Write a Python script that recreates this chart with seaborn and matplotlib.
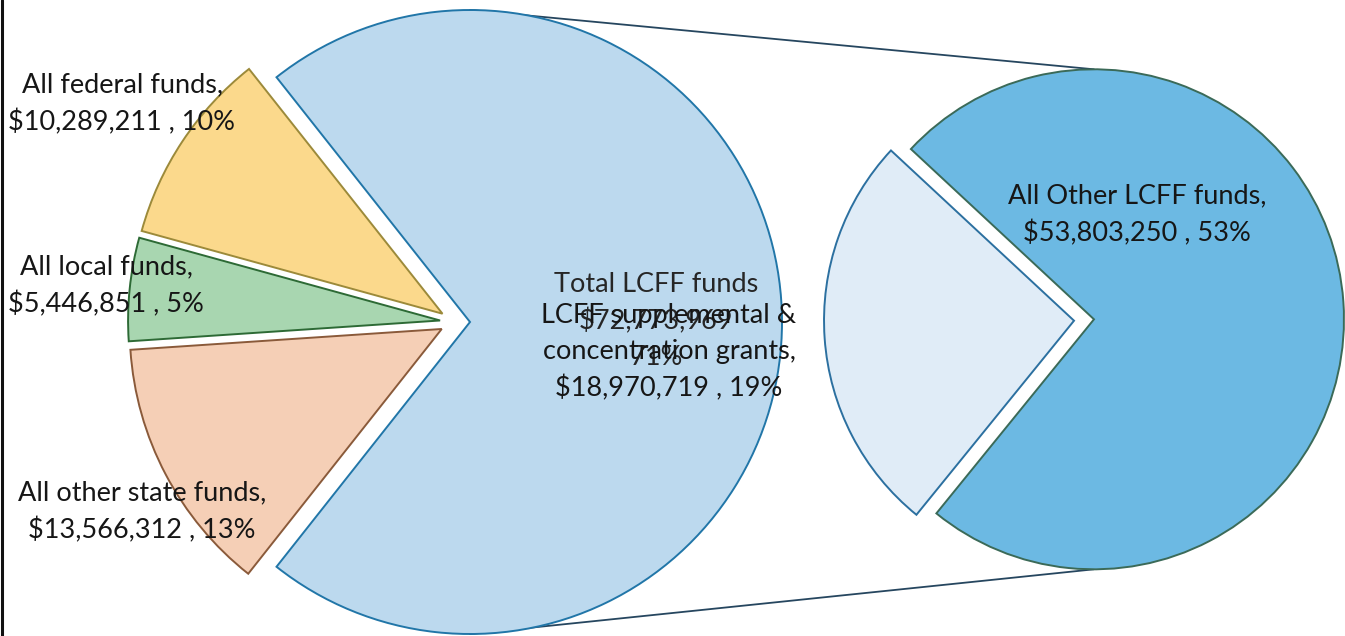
import matplotlib
matplotlib.use("Agg")
import matplotlib.pyplot as plt
from matplotlib.lines import Line2D
import numpy as np
import seaborn as sns

# ---------------- data ----------------
left_labels = ["All federal funds", "All local funds", "All other state funds", "Total LCFF funds"]
left_values = [10289211, 5446851, 13566312, 72773969]

right_labels = ["LCFF supplemental &\nconcentration grants", "All Other LCFF funds"]
right_values = [18970719, 53803250]

left_fill = ["#FBD98C", "#A8D6B0", "#F5CFB6", "#BCD9EE"]
left_edge = ["#9C8A3A", "#2D6A35", "#8A5A3A", "#2176A8"]
right_fill = ["#E0ECF7", "#6CB9E3"]
right_edge = ["#2C70A0", "#3B6A58"]

# ---------------- figure ----------------
sns.set_theme(style="white")
plt.rcParams["font.family"] = ["Lato", "DejaVu Sans"]

W, H = 1345, 636
fig = plt.figure(figsize=(W / 100, H / 100), dpi=100)
ax = fig.add_axes([0, 0, 1, 1])


def Y(py):
    return H - py


total = sum(left_values)
small_frac = sum(left_values[:3]) / total

# left pie
lc = (455, Y(322))
lr = 312
lexp = 15
lstart = 180 - small_frac * 180
lw_, _ = ax.pie(left_values, colors=left_fill, startangle=lstart, counterclock=True,
                center=lc, radius=lr, explode=[lexp] * 4, frame=True,
                wedgeprops=dict(linewidth=1.4))
for w, ec in zip(lw_, left_edge):
    w.set_edgecolor(ec)

# right pie
rc = (1084, Y(320))
rr = 250
rexp = 10
supp_frac = right_values[0] / sum(right_values)
rstart = 184 - supp_frac * 180
rw_, _ = ax.pie(right_values, colors=right_fill, startangle=rstart, counterclock=True,
                center=rc, radius=rr, explode=[rexp] * 2, frame=True,
                wedgeprops=dict(linewidth=1.4))
for w, ec in zip(rw_, right_edge):
    w.set_edgecolor(ec)

# series lines between the pies
lbig = lw_[3].center
rbig = rw_[1].center
for s in (1, -1):
    ax.add_line(Line2D([lbig[0], rbig[0]], [lbig[1] + s * lr, rbig[1] + s * rr],
                       color="#26465F", lw=1.3, zorder=0.5))

ax.set_xlim(0, W)
ax.set_ylim(0, H)
ax.set_aspect("auto")
ax.axis("off")


def fmt(label, v):
    return f"{label},\n${v:,.0f} , {round(100 * v / total):.0f}%"


tc = "#161616"
fs = 19.5
ls = 1.55
# left small slices labels
pos_left = [(122, 104), (106, 286), (142, 512)]
for lab, v, (px, py) in zip(left_labels[:3], left_values[:3], pos_left):
    ax.text(px, Y(py), fmt(lab, v), ha="center", va="center", fontsize=fs,
            color=tc, linespacing=ls, zorder=5)

# total LCFF label (drawn under the supplemental label)
ax.text(656, Y(321), f"{left_labels[3]}\n${left_values[3]:,.0f}\n{round(100 * left_values[3] / total):.0f}%",
        ha="center", va="center", fontsize=fs, color="#262626", linespacing=ls, zorder=5)

# right labels
ax.text(669, Y(352), fmt(right_labels[0], right_values[0]), ha="center", va="center",
        fontsize=fs, color=tc, linespacing=ls, zorder=6)
ax.text(1137, Y(215), fmt(right_labels[1], right_values[1]), ha="center", va="center",
        fontsize=fs, color=tc, linespacing=ls, zorder=6)

# left border line
fig.add_artist(Line2D([0.0012, 0.0012], [0, 1], transform=fig.transFigure,
                      color="#111111", lw=2.2))

fig.savefig("out.png", dpi=100, facecolor="white")
